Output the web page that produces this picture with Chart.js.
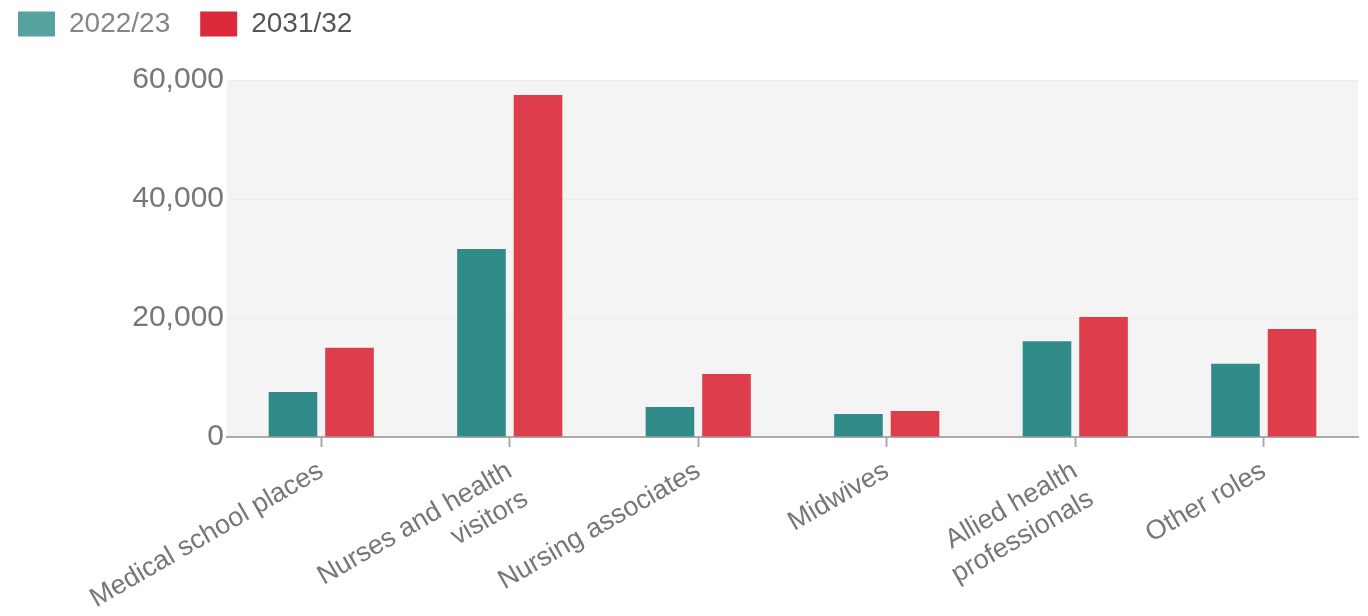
<!DOCTYPE html>
<html>
<head>
<meta charset="utf-8">
<script src="https://cdn.jsdelivr.net/npm/chart.js@4.4.1/dist/chart.umd.min.js"></script>
<style>
html, body { margin: 0; padding: 0; background: #fff; }
#wrap { width: 1368px; height: 616px; }
</style>
</head>
<body>
<div id="wrap"><canvas id="chart"></canvas></div>
<script>
const categories = [
    'Medical school places',
    ['Nurses and health', 'visitors'],
    'Nursing associates',
    'Midwives',
    ['Allied health', 'professionals'],
    'Other roles'
];
const seriesNames = ['2022/23', '2031/32'];
const values2022 = [7550, 31600, 5050, 3850, 16100, 12300];
const values2031 = [15000, 57500, 10600, 4350, 20150, 18150];
const yTicks = [0, 20000, 40000, 60000];

const barColors = ['#318b89', '#de3e4b'];
const legendColors = ['#55a29e', '#dc2a3a'];
const legendTextColors = ['#858585', '#555555'];

// grey plot background
const plotBg = {
    id: 'plotBg',
    beforeDraw(chart) {
        const a = chart.chartArea;
        const ctx = chart.ctx;
        ctx.save();
        ctx.fillStyle = '#f4f4f4';
        ctx.fillRect(a.left, a.top, a.right - a.left, a.bottom - a.top);
        ctx.restore();
    }
};

// make the legend take more room above the plot
const legendSpace = {
    id: 'legendSpace',
    beforeInit(chart) {
        const origFit = chart.legend.fit;
        chart.legend.fit = function () {
            origFit.call(this);
            this.height = 100;
        };
    }
};

new Chart(document.getElementById('chart').getContext('2d'), {
    type: 'bar',
    data: {
        labels: categories,
        datasets: [{
            label: seriesNames[0],
            backgroundColor: barColors[0],
            data: values2022,
            categoryPercentage: 0.6,
            barPercentage: 0.86
        }, {
            label: seriesNames[1],
            backgroundColor: barColors[1],
            data: values2031,
            categoryPercentage: 0.6,
            barPercentage: 0.86
        }]
    },
    plugins: [plotBg, legendSpace],
    options: {
        responsive: true,
        maintainAspectRatio: false,
        animation: false,
        devicePixelRatio: 1,
        layout: {
            padding: { top: -20, left: -12, right: 10, bottom: 0 }
        },
        plugins: {
            legend: {
                position: 'top',
                align: 'start',
                labels: {
                    boxWidth: 37,
                    boxHeight: 25,
                    padding: 30,
                    font: { family: 'Liberation Sans, Arial, sans-serif', size: 28 },
                    generateLabels: (chart) => chart.data.datasets.map((ds, i) => ({
                        text: ds.label,
                        fillStyle: legendColors[i],
                        strokeStyle: legendColors[i],
                        lineWidth: 0,
                        fontColor: legendTextColors[i],
                        datasetIndex: i,
                        hidden: !chart.isDatasetVisible(i)
                    }))
                }
            },
            tooltip: { enabled: true }
        },
        scales: {
            x: {
                afterFit: (scale) => { scale.height = 179; },
                grid: {
                    offset: false,
                    drawOnChartArea: false,
                    drawTicks: true,
                    tickLength: 10,
                    tickWidth: 2,
                    tickColor: '#aaaaaa'
                },
                border: { display: true, color: '#aaaaaa', width: 2 },
                ticks: {
                    autoSkip: false,
                    maxRotation: 30,
                    minRotation: 30,
                    padding: 8,
                    color: '#777777',
                    font: { family: 'Liberation Sans, Arial, sans-serif', size: 27 }
                }
            },
            y: {
                min: 0,
                max: 60000,
                afterFit: (scale) => { scale.width = 239; },
                afterBuildTicks: (scale) => {
                    scale.ticks = yTicks.map(v => ({ value: v }));
                },
                grid: {
                    drawTicks: false,
                    color: (ctx) => ctx.tick && ctx.tick.value === 0 ? 'rgba(0,0,0,0)' : '#e9eee9',
                    lineWidth: 1
                },
                border: { display: false },
                ticks: {
                    padding: 3,
                    color: '#777777',
                    font: { family: 'Liberation Sans, Arial, sans-serif', size: 30 },
                    callback: (v) => v.toLocaleString('en-US')
                }
            }
        }
    }
});
</script>
</body>
</html>
